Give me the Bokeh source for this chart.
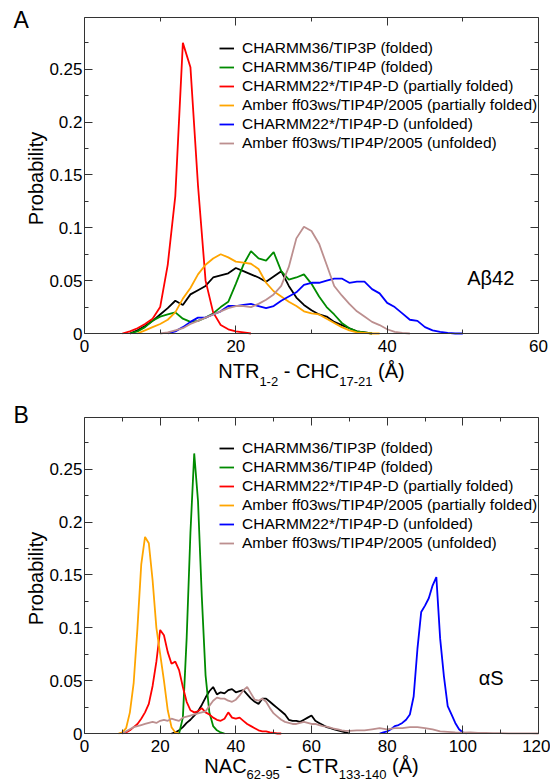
import math
from bokeh.plotting import figure
from bokeh.models import Range1d, FixedTicker, LinearAxis, Legend, LegendItem, Label, Grid
from bokeh.layouts import column
from bokeh.embed import file_html
from bokeh.resources import INLINE

FONT = "Liberation Sans"

# ---------------- data: panel A (Abeta42), NTR1-2 - CHC17-21 distance ----------------
a_black_x = list(range(6, 39))
a_black_y = [0.000, 0.003, 0.007, 0.012, 0.018, 0.024, 0.031, 0.027, 0.037, 0.041, 0.045,
             0.053, 0.055, 0.057, 0.062, 0.059, 0.056, 0.053, 0.049, 0.054, 0.059, 0.045,
             0.034, 0.027, 0.022, 0.018, 0.016, 0.011, 0.008, 0.005, 0.002, 0.001, 0.0]
a_green_x = list(range(6, 39))
a_green_y = [0.0, 0.002, 0.006, 0.012, 0.016, 0.018, 0.020, 0.014, 0.011, 0.012, 0.015,
             0.019, 0.025, 0.030, 0.047, 0.065, 0.078, 0.071, 0.069, 0.077, 0.059, 0.051,
             0.053, 0.056, 0.047, 0.035, 0.025, 0.018, 0.010, 0.005, 0.002, 0.001, 0.0]
a_red_x = list(range(5, 23))
a_red_y = [0.0, 0.002, 0.005, 0.009, 0.014, 0.025, 0.065, 0.13, 0.275, 0.252, 0.14, 0.05,
           0.02, 0.008, 0.004, 0.002, 0.001, 0.0]
a_orange_x = list(range(7, 40))
a_orange_y = [0.0, 0.003, 0.006, 0.009, 0.013, 0.020, 0.033, 0.043, 0.056, 0.065, 0.071,
              0.075, 0.072, 0.068, 0.067, 0.066, 0.061, 0.048, 0.040, 0.035, 0.030, 0.026,
              0.021, 0.019, 0.018, 0.014, 0.010, 0.006, 0.003, 0.001, 0.0005, 0.0, 0.0]
a_blue_x = list(range(11, 51))
a_blue_y = [0.0, 0.002, 0.006, 0.011, 0.015, 0.015, 0.018, 0.021, 0.026, 0.026, 0.027,
            0.028, 0.026, 0.024, 0.026, 0.031, 0.035, 0.039, 0.046, 0.048, 0.048, 0.050,
            0.052, 0.052, 0.048, 0.049, 0.049, 0.042, 0.038, 0.029, 0.025, 0.019, 0.013,
            0.012, 0.006, 0.003, 0.0015, 0.0005, 0.0, 0.0]
a_brown_x = list(range(10, 44))
a_brown_y = [0.0, 0.001, 0.003, 0.005, 0.009, 0.012, 0.015, 0.018, 0.021, 0.024, 0.026,
             0.026, 0.025, 0.028, 0.032, 0.037, 0.045, 0.063, 0.090, 0.101, 0.097, 0.085,
             0.065, 0.045, 0.036, 0.028, 0.021, 0.016, 0.011, 0.008, 0.004, 0.0015, 0.0005, 0.0]

# ---------------- data: panel B (alpha-synuclein), NAC62-95 - CTR133-140 distance ----------------
b_black_x = list(range(23, 71))
b_black_y = [0.0, 0.001, 0.003, 0.006, 0.010, 0.013, 0.017, 0.021, 0.027, 0.034, 0.040,
             0.044, 0.037, 0.039, 0.038, 0.041, 0.042, 0.039, 0.040, 0.041, 0.037, 0.033,
             0.030, 0.028, 0.033, 0.033, 0.030, 0.027, 0.024, 0.021, 0.018, 0.013, 0.012,
             0.012, 0.011, 0.013, 0.015, 0.017, 0.012, 0.010, 0.008, 0.006, 0.005, 0.004,
             0.003, 0.002, 0.001, 0.0]
b_green_x = list(range(25, 38))
b_green_y = [0.0, 0.015, 0.09, 0.19, 0.265, 0.22, 0.13, 0.055, 0.02, 0.007, 0.003, 0.001, 0.0]
b_red_x = list(range(10, 53))
b_red_y = [0.0, 0.001, 0.003, 0.006, 0.009, 0.014, 0.020, 0.028, 0.045, 0.068, 0.098,
           0.093, 0.077, 0.066, 0.068, 0.060, 0.044, 0.030, 0.022, 0.020, 0.021, 0.024,
           0.020, 0.018, 0.015, 0.013, 0.012, 0.014, 0.020, 0.015, 0.014, 0.015, 0.012,
           0.009, 0.007, 0.005, 0.003, 0.002, 0.002, 0.001, 0.0005, 0.0, 0.0]
b_orange_x = list(range(9, 26))
b_orange_y = [0.0, 0.001, 0.005, 0.02, 0.048, 0.10, 0.16, 0.186, 0.18, 0.145, 0.10, 0.075,
              0.05, 0.022, 0.006, 0.001, 0.0]
b_blue_x = list(range(78, 102))
b_blue_y = [0.0, 0.001, 0.002, 0.004, 0.007, 0.008, 0.010, 0.013, 0.018, 0.035, 0.080,
            0.115, 0.121, 0.128, 0.140, 0.148, 0.090, 0.054, 0.026, 0.018, 0.010, 0.004,
            0.001, 0.0]
b_brown_x = list(range(10, 71)) + list(range(72, 121, 2))
b_brown_y = [0.0, 0.002, 0.004, 0.006, 0.007, 0.008, 0.009, 0.010, 0.011, 0.010, 0.012,
             0.013, 0.012, 0.014, 0.013, 0.012, 0.015, 0.016, 0.017, 0.018, 0.019, 0.020,
             0.021, 0.026, 0.031, 0.034, 0.033, 0.033, 0.031, 0.030, 0.032, 0.036, 0.041,
             0.044, 0.038, 0.032, 0.031, 0.033, 0.030, 0.024, 0.019, 0.016, 0.013, 0.011,
             0.010, 0.009, 0.009, 0.010, 0.011, 0.010, 0.009, 0.009, 0.008, 0.007, 0.0065,
             0.0055, 0.0045, 0.004, 0.003, 0.0025, 0.0025,
             0.003, 0.003, 0.004, 0.005, 0.004, 0.005, 0.005, 0.006, 0.006, 0.005, 0.004,
             0.002, 0.0015, 0.001, 0.0008, 0.001, 0.0005, 0.0005, 0.0003, 0.0003, 0.0002,
             0.0002, 0.0001, 0.0001, 0.0]

series_names = ["CHARMM36/TIP3P (folded)",
                "CHARMM36/TIP4P (folded)",
                "CHARMM22*/TIP4P-D (partially folded)",
                "Amber ff03ws/TIP4P/2005 (partially folded)",
                "CHARMM22*/TIP4P-D (unfolded)",
                "Amber ff03ws/TIP4P/2005 (unfolded)"]
series_colors = ["#000000", "#008b00", "#ff0000", "#ffa500", "#0000ff", "#bc8f8f"]

y_major = [0, 0.05, 0.1, 0.15, 0.2, 0.25]
y_minor = [0.025, 0.075, 0.125, 0.175, 0.225, 0.275]
y_labels = {0: "0", 0.05: "0.05", 0.1: "0.1", 0.15: "0.15", 0.2: "0.2", 0.25: "0.25"}
Y_END = 0.299

a_x_end = 60
a_x_major = [0, 20, 40, 60]
a_x_minor = [10, 30, 50]
b_x_end = 120
b_x_major = [0, 20, 40, 60, 80, 100, 120]
b_x_minor = [10, 30, 50, 70, 90, 110]

# ---------------- layout (pixels) ----------------
W = 550
FL, FR = 84, 538      # frame left / right
FT, FB = 17, 333      # frame top / bottom inside each figure
HA, HB = 400, 382     # figure heights

# Arial / Liberation Sans advance widths (per 1000 em) for composing the axis titles
ADV = {'N': 722, 'T': 611, 'R': 722, 'C': 722, 'H': 722, 'A': 667, ' ': 278, '-': 333,
       '(': 333, ')': 333, '\u00c5': 667}
for d in "0123456789":
    ADV[d] = 556

AXC = "#333333"


def tw(s, size):
    return sum(ADV[c] for c in s) * size / 1000.0


def add_axis(p, side, loc, ticks, minor, bounds, labels=True, overrides=None, standoff=3):
    ax = LinearAxis(fixed_location=loc, bounds=bounds,
                    ticker=FixedTicker(ticks=ticks, minor_ticks=minor))
    ax.major_tick_in = 8
    ax.major_tick_out = 0
    ax.minor_tick_in = 4
    ax.minor_tick_out = 0
    ax.axis_line_color = AXC
    ax.axis_line_width = 1
    ax.major_tick_line_color = AXC
    ax.minor_tick_line_color = AXC
    if labels:
        ax.major_label_text_font = FONT
        ax.major_label_text_font_size = "17px"
        ax.major_label_text_color = "#000000"
        ax.major_label_standoff = standoff
        if overrides:
            ax.major_label_overrides = overrides
    else:
        ax.major_label_overrides = {t: "" for t in ticks}
        ax.major_label_text_alpha = 0
        ax.major_label_standoff = 0
    p.add_layout(ax, side)
    return ax


def panel(H, x_end, xmaj, xmin, data, letter, letter_dy, tag, tag_xy,
          title_pieces, title_mid, sub_mid):
    sx = (FR - FL) / x_end
    sy = (FB - FT) / Y_END
    x0 = -FL / sx
    x1 = x0 + W / sx
    y1 = Y_END + FT / sy
    y0 = -(H - FB) / sy
    p = figure(width=W, height=H, x_range=Range1d(x0, x1), y_range=Range1d(y0, y1),
               output_backend="svg", toolbar_location=None,
               x_axis_location=None, y_axis_location=None,
               min_border_left=0, min_border_right=0, min_border_top=0, min_border_bottom=0)
    for r in p.center:
        if isinstance(r, Grid):
            r.visible = False
    p.outline_line_color = None
    p.background_fill_color = "white"
    p.border_fill_color = "white"

    add_axis(p, "below", 0, xmaj, xmin, (0, x_end), standoff=6)
    add_axis(p, "left", 0, y_major, y_minor, (0, Y_END), overrides=y_labels, standoff=2)
    add_axis(p, "above", Y_END, xmaj, xmin, (0, x_end), labels=False)
    add_axis(p, "right", x_end, y_major, y_minor, (0, Y_END), labels=False)

    items = []
    for (xs, ys), name, col in zip(data, series_names, series_colors):
        r = p.line(xs, ys, line_color=col, line_width=1.8)
        items.append(LegendItem(label=name, renderers=[r]))

    leg = Legend(items=items, location=(219, H - 152), label_text_font=FONT,
                 label_text_font_size="15.5px", label_text_color="#000000",
                 glyph_width=15, glyph_height=18, label_height=18, spacing=1,
                 padding=0, margin=0, label_standoff=8,
                 border_line_alpha=0, background_fill_alpha=0)
    p.add_layout(leg)

    # y-axis title
    p.add_layout(Label(x=0, y=Y_END / 2, x_offset=-49, y_offset=-3, text="Probability",
                       angle=math.pi / 2, text_align="center", text_baseline="middle",
                       text_font=FONT, text_font_size="20px", text_color="#000000"))
    # panel letter
    p.add_layout(Label(x=0, y=Y_END, x_offset=-71, y_offset=letter_dy, text=letter,
                       text_font=FONT, text_font_size="23px", text_baseline="middle",
                       text_color="#000000"))
    # molecule tag
    p.add_layout(Label(x=tag_xy[0], y=tag_xy[1], text=tag, text_font=FONT,
                       text_font_size="20px", text_baseline="middle",
                       text_color="#000000"))

    # x-axis title with subscripts
    total = 0.0
    for s, size, sub, gap in title_pieces:
        total += gap + tw(s, size)
    cur = -total / 2.0
    for s, size, sub, gap in title_pieces:
        cur += gap
        p.add_layout(Label(x=x_end / 2.0, y=0, x_offset=cur,
                           y_offset=(sub_mid if sub else title_mid),
                           text=s, text_font=FONT, text_font_size="%dpx" % size,
                           text_baseline="middle", text_align="left",
                           text_color="#000000"))
        cur += tw(s, size)
    return p


SP = tw(" ", 20)
title_a = [("NTR", 20, False, 0), ("1-2", 13, True, 0), ("-", 20, False, SP),
           ("CHC", 20, False, SP), ("17-21", 13, True, 0), ("(\u00c5)", 20, False, SP)]
title_b = [("NAC", 20, False, 0), ("62-95", 13, True, 0), ("-", 20, False, SP),
           ("CTR", 20, False, SP), ("133-140", 13, True, 0), ("(\u00c5)", 20, False, SP)]

data_a = [(a_black_x, a_black_y), (a_green_x, a_green_y), (a_red_x, a_red_y),
          (a_orange_x, a_orange_y), (a_blue_x, a_blue_y), (a_brown_x, a_brown_y)]
data_b = [(b_black_x, b_black_y), (b_green_x, b_green_y), (b_red_x, b_red_y),
          (b_orange_x, b_orange_y), (b_blue_x, b_blue_y), (b_brown_x, b_brown_y)]

pA = panel(HA, a_x_end, a_x_major, a_x_minor, data_a, "A", -2.5, "A\u03b242", (50.58, 0.0525),
           title_a, -37, -47.5)
pB = panel(HB, b_x_end, b_x_major, b_x_minor, data_b, "B", 3, "\u03b1S", (104.2, 0.0525),
           title_b, -32, -41)

p = column(pA, pB)
open("out.html", "w").write(file_html(p, INLINE))
